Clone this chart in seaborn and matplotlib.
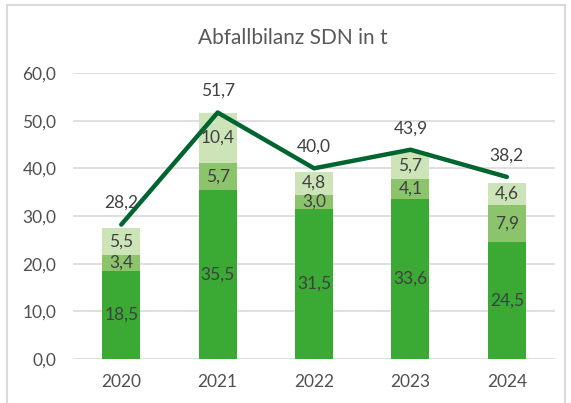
import numpy as np
import pandas as pd
import seaborn as sns
import matplotlib.pyplot as plt
from matplotlib.patches import Rectangle

sns.set_theme(style="white")
plt.rcParams['font.family'] = ['Lato', 'DejaVu Sans']

# ---------- Data ---------------------------------------------------- #
years  = ["2020", "2021", "2022", "2023", "2024"]
part_a = [18.5, 35.5, 31.5, 33.6, 24.5]   # dark green
part_b = [3.4, 5.7, 3.0, 4.1, 7.9]        # mid green
part_c = [5.5, 10.4, 4.8, 5.7, 4.6]       # light green
totals = [28.2, 51.7, 40.0, 43.9, 38.2]   # line

c_a, c_b, c_c = "#3aaa35", "#8cc46c", "#cde4b8"
c_line = "#00652e"
txt = "#404040"

df = pd.DataFrame({"year": years, "a": part_a, "b": part_b, "c": part_c})
df["ab"] = df["a"] + df["b"]
df["abc"] = df["ab"] + df["c"]

fig = plt.figure(figsize=(5.71, 4.03), dpi=100)
ax = fig.add_axes([0.128, 0.109, 0.844, 0.710])

# stacked bars: draw cumulative heights, tallest first
for col, color in [("abc", c_c), ("ab", c_b), ("a", c_a)]:
    sns.barplot(data=df, x="year", y=col, color=color, width=0.395,
                saturation=1, edgecolor="none", ax=ax, zorder=2)

# segment labels
for i in range(len(years)):
    for base, val in [(0, part_a[i]), (part_a[i], part_b[i]),
                      (part_a[i] + part_b[i], part_c[i])]:
        ax.text(i, base + val / 2, f"{val:.1f}".replace(".", ","),
                ha="center", va="center", fontsize=12.5, color=txt, zorder=4)

# total line
sns.lineplot(x=np.arange(len(years)), y=totals, color=c_line, lw=3.2,
             ax=ax, zorder=3)
for i, t in enumerate(totals):
    ax.annotate(f"{t:.1f}".replace(".", ","), (i, t), xytext=(0, 15.5),
                textcoords="offset points", ha="center", va="center",
                fontsize=12.5, color=txt)

# axes styling
ax.set_ylim(0, 60)
ax.set_xlim(-0.5, 4.5)
ax.set_yticks(np.arange(0, 61, 10))
ax.set_yticklabels([f"{v:.1f}".replace(".", ",") for v in np.arange(0, 61, 10)])
ax.yaxis.grid(True, color="#d9d9d9", lw=1.2, zorder=0)
ax.set_axisbelow(True)
for s in ax.spines.values():
    s.set_visible(False)
ax.tick_params(axis="both", length=0, labelsize=12.5, labelcolor="#505050")
ax.tick_params(axis="y", pad=12)
ax.tick_params(axis="x", pad=11)
ax.set_xlabel(""); ax.set_ylabel("")

fig.text(0.512, 0.905, "Abfallbilanz SDN in t", ha="center", va="center",
         fontsize=15, color="#595959")

# chart border
fig.patches.append(Rectangle((0.012, -0.02), 0.977, 1.008, transform=fig.transFigure,
                             fill=False, edgecolor="#d9d9d9", lw=1.5))

fig.savefig("out.png", dpi=100)
